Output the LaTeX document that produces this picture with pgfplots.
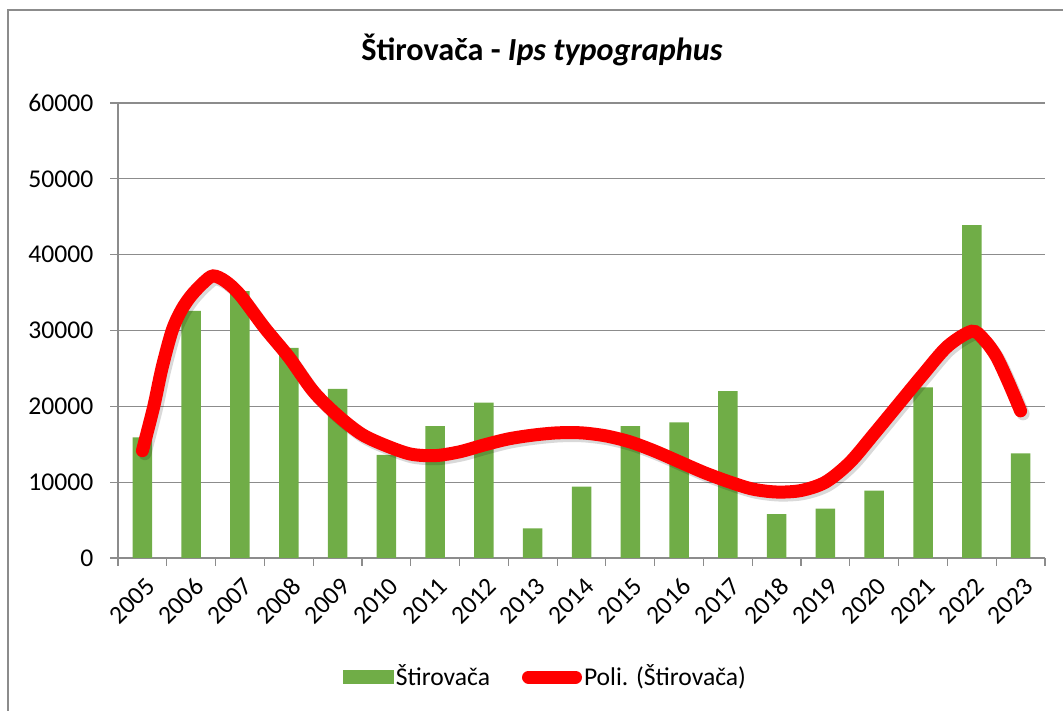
\documentclass[border=0pt]{standalone}
\usepackage{pgfplots}
\pgfplotsset{compat=1.18}
\usepackage{fontspec}
\setmainfont{Carlito}
\definecolor{barg}{HTML}{70AD47}
\definecolor{gridc}{HTML}{8C8C8C}
\pgfplotstableread{
x y
0 14150
0.23 19900
0.4 25000
0.61 30000
0.8 32700
1 34600
1.25 36300
1.45 37200
1.7 36500
2 34700
2.5 30400
3 26500
3.5 22000
4 18800
4.5 16300
5 14800
5.5 13700
6 13500
6.5 14000
7 14900
7.5 15700
8 16200
8.5 16500
9 16500
9.5 16100
10 15300
10.5 14100
11 12700
11.5 11300
12 10100
12.5 9100
13 8700
13.5 8900
14 10000
14.5 12600
15 16400
15.5 20300
16 24200
16.5 27900
17 29900
17.25 28800
17.5 26600
17.75 23200
18 19400
}\trend
\begin{document}
\begin{tikzpicture}
\fontsize{25.6}{30}\selectfont
\path[use as bounding box] (0pt,0pt) rectangle (1063pt,711pt);
\draw[gridc, line width=1.2pt] (8pt,0pt) -- (8pt,701pt) -- (1063pt,701pt);
\node[font=\fontsize{32.2}{38}\selectfont\bfseries] at (542pt,661pt) {Štirovača - \textit{Ips typographus}};
\begin{axis}[
  at={(118pt,153pt)}, anchor=south west,
  scale only axis, width=927pt, height=455pt,
  xmin=-0.5, xmax=18.5, ymin=0, ymax=60000,
  axis x line*=bottom, axis y line*=left,
  axis line style={gridc, line width=1.2pt},
  ymajorgrids, grid style={gridc, line width=1.2pt},
  ytick={0,10000,...,60000}, scaled y ticks=false,
  minor ytick={0,10000,...,60000},
  xtick={0,1,...,18},
  xticklabels={2005,2006,2007,2008,2009,2010,2011,2012,2013,2014,2015,2016,2017,2018,2019,2020,2021,2022,2023},
  minor xtick={-0.5,0.5,...,18.5},
  tick align=outside, major tick length=0pt, minor tick length=8pt,
  tick style={gridc, line width=1.2pt},
  xticklabel style={rotate=45, anchor=east, xshift=-3pt, yshift=-23pt},
  /pgf/number format/assume math mode=true,
  /pgf/number format/1000 sep={},
  ticklabel style={font=\fontsize{25.6}{30}\selectfont},
  yticklabel style={xshift=-16pt},
  legend columns=2,
  legend style={at={(0.461,-0.262)}, anchor=center, draw=none, fill=none,
     font=\fontsize{25.6}{30}\selectfont,
     /tikz/every even column/.append style={column sep=30pt}},
]
\addplot[ybar, bar width=19.5pt, fill=barg, draw=none, bar shift=0pt,
  legend image code/.code={\fill[barg] (0pt,-7pt) rectangle (51pt,7pt);}]
 coordinates {
 (0,15900) (1,32600) (2,35200) (3,27700) (4,22300) (5,13600) (6,17400)
 (7,20500) (8,3900) (9,9400) (10,17400) (11,17900) (12,22000) (13,5800)
 (14,6500) (15,8900) (16,22500) (17,43900) (18,13800)};
\addlegendentry{Štirovača}
\addplot[black, opacity=0.15, line width=13pt, smooth, line cap=round, forget plot,
  transform canvas={xshift=2.5pt, yshift=-3pt}] table[x=x,y=y] {\trend};
\addplot[red, line width=13pt, smooth, line cap=round,
  legend image code/.code={\draw[red, line width=13pt, line cap=round] (6pt,0pt) -- (53pt,0pt);}]
  table[x=x,y=y] {\trend};
\addlegendentry{Poli. (Štirovača)}
\end{axis}
\end{tikzpicture}
\end{document}
